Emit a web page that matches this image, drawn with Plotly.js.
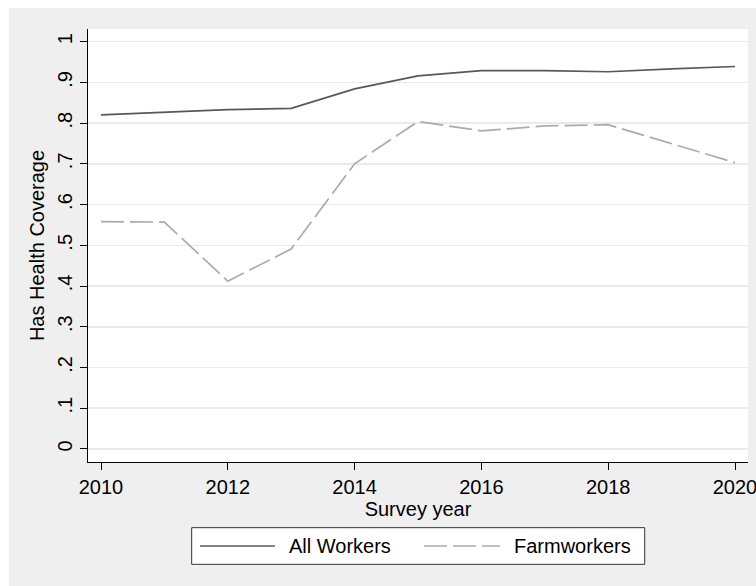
<!DOCTYPE html>
<html>
<head>
<meta charset="utf-8">
<script src="https://cdn.plot.ly/plotly-3.0.1.min.js"></script>
<style>
  html, body { margin: 0; padding: 0; background: #ffffff; }
  #chart { position: absolute; left: 9px; top: 8px; width: 747px; height: 578px; }
</style>
</head>
<body>
<div id="chart"></div>
<script>
// Data
const years = [2010, 2011, 2012, 2013, 2014, 2015, 2016, 2017, 2018, 2019, 2020];
const allWorkers = [0.820, 0.826, 0.833, 0.836, 0.884, 0.916, 0.929, 0.929, 0.926, 0.933, 0.939];
const farmYears = [2010, 2011, 2012, 2013, 2014, 2015, 2016, 2017, 2018, 2020];
const farmworkers = [0.558, 0.557, 0.412, 0.491, 0.700, 0.804, 0.781, 0.793, 0.796, 0.703];
const yTickVals = [0, 0.1, 0.2, 0.3, 0.4, 0.5, 0.6, 0.7, 0.8, 0.9, 1];
const yTickText = ['0', '.1', '.2', '.3', '.4', '.5', '.6', '.7', '.8', '.9', '1'];
const xTickVals = [2010, 2012, 2014, 2016, 2018, 2020];
const seriesNames = ['All Workers', 'Farmworkers'];

const font = 'Liberation Sans, Arial, sans-serif';
const colAll = '#585858';
const colFarm = '#ababab';
const farmDash = '23px,6px';

const traces = [
  {
    x: years, y: allWorkers, name: seriesNames[0], type: 'scatter', mode: 'lines',
    line: { color: colAll, width: 1.7 }
  },
  {
    x: farmYears, y: farmworkers, name: seriesNames[1], type: 'scatter', mode: 'lines',
    line: { color: colFarm, width: 1.7, dash: farmDash }
  }
];

// Stata-style legend box below the plot (paper coordinates)
const legY = -0.194;
const shapes = [
  { type: 'rect', xref: 'paper', yref: 'paper', x0: 0.1571, x1: 0.8435, y0: -0.2363, y1: -0.1517,
    fillcolor: '#ffffff', line: { color: '#333333', width: 1 }, layer: 'above' },
  { type: 'line', xref: 'paper', yref: 'paper', x0: 0.1697, x1: 0.2833, y0: legY, y1: legY,
    line: { color: colAll, width: 1.7 }, layer: 'above' },
  { type: 'line', xref: 'paper', yref: 'paper', x0: 0.5091, x1: 0.6242, y0: legY, y1: legY,
    line: { color: colFarm, width: 1.7, dash: farmDash }, layer: 'above' }
];
const annotations = [
  { xref: 'paper', yref: 'paper', x: 0.3015, y: legY, xanchor: 'left', yanchor: 'middle',
    text: seriesNames[0], showarrow: false, font: { family: font, size: 20, color: '#000' } },
  { xref: 'paper', yref: 'paper', x: 0.6424, y: legY, xanchor: 'left', yanchor: 'middle',
    text: seriesNames[1], showarrow: false, font: { family: font, size: 20, color: '#000' } }
];

const layout = {
  width: 747, height: 578,
  margin: { l: 79, r: 8, t: 21, b: 124 },
  paper_bgcolor: '#efefef',
  plot_bgcolor: '#ffffff',
  font: { family: font, size: 20, color: '#000000' },
  showlegend: false,
  xaxis: {
    range: [2009.795, 2020.205],
    tickvals: xTickVals,
    ticks: 'outside', ticklen: 7, tickwidth: 1, tickcolor: '#000',
    showgrid: false, zeroline: false,
    showline: true, linecolor: '#000', linewidth: 1,
    ticklabeloverflow: 'allow',
    tickfont: { family: font, size: 20 },
    title: { text: 'Survey year', font: { family: font, size: 20 }, standoff: 0 }
  },
  yaxis: {
    range: [-0.032, 1.031],
    tickvals: yTickVals, ticktext: yTickText,
    tickangle: -90,
    ticks: 'outside', ticklen: 7, tickwidth: 1, tickcolor: '#000',
    showgrid: true, gridcolor: '#eaeaea', gridwidth: 1.5,
    zeroline: false,
    showline: true, linecolor: '#000', linewidth: 1,
    ticklabeloverflow: 'allow',
    tickfont: { family: font, size: 20 },
    title: { text: 'Has Health Coverage', font: { family: font, size: 20 }, standoff: 4 }
  },
  shapes: shapes,
  annotations: annotations
};

Plotly.newPlot('chart', traces, layout, { displayModeBar: false, staticPlot: true });
</script>
</body>
</html>
